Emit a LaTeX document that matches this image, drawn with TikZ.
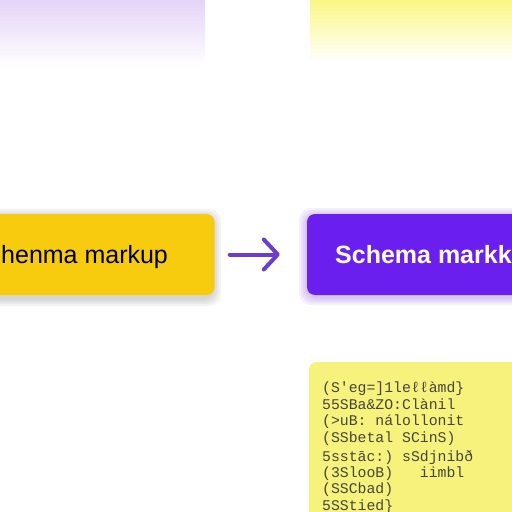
\documentclass[tikz,border=0pt]{standalone}
\usepackage{fontspec}
\setmainfont{Liberation Sans}
\setmonofont{Liberation Mono}
\usetikzlibrary{arrows.meta}
\definecolor{boxyellow}{HTML}{F7CB0E}
\definecolor{boxpurple}{HTML}{6B1FEF}
\definecolor{codeyellow}{HTML}{F7F27C}
\definecolor{toppurple}{HTML}{E4D3F8}
\definecolor{topyellow}{HTML}{FAF784}
\definecolor{arrowpurple}{HTML}{6A3CCF}
\definecolor{codegray}{HTML}{45453C}
\tikzset{
  card/.style={rounded corners=8pt, inner sep=0pt, draw=none},
  glow/.style={rounded corners=12pt, fill=#1, opacity=0.07},
  labeltext/.style={inner sep=0pt, anchor=base west, font=\fontsize{25}{30}\selectfont},
  codeline/.style={inner sep=0pt, anchor=base west, text=codegray, font=\ttfamily\fontsize{14.8}{16}\selectfont},
  flowarrow/.style={draw=arrowpurple, line width=4pt, line cap=round,
    -{Straight Barb[length=14pt,width=30pt,line join=round,line cap=round]}}
}
\begin{document}
\begin{tikzpicture}[x=1pt,y=-1pt]
\useasboundingbox (0,0) rectangle (512,512);
\clip (0,0) rectangle (512,512);
\fill[white] (0,0) rectangle (512,512);
% top faded panels
\shade[top color=toppurple, bottom color=white] (0,0) rectangle (205,66);
\shade[top color=topyellow, bottom color=white] (310,0) rectangle (512,62);
% soft glows behind cards
\foreach \g in {2,4,6,8}{
  \fill[glow=black!60] (-20,214-\g+3) rectangle (213+\g,295+\g+3);
  \fill[glow=boxpurple] (307-\g,214-\g+2) rectangle (540,295+\g+2);
}
% yellow card
\node[card, fill=boxyellow, minimum width=233pt, minimum height=81pt]
  (yellowcard) at (98,254.5) {};
\node[labeltext, text=black] (yellowlabel) at (1,263) {henma markup};
% purple card
\node[card, fill=boxpurple, minimum width=233pt, minimum height=81pt]
  (purplecard) at (423.5,254.5) {};
\node[labeltext, text=white, font=\bfseries\fontsize{25}{30}\selectfont] (purplelabel) at (335,263) {Schema markku};
% arrow
\draw[flowarrow, shorten <=15pt, shorten >=27pt] (yellowcard.east) -- (purplecard.west);
% code card
\node[card, fill=codeyellow, minimum width=230pt, minimum height=180pt]
  (codecard) at (424,452) {};
\node[codeline] (c1) at (322,392) {(S'eg=]1leℓℓàmd\}};
\node[codeline] (c2) at (322,409.5) {55SBa\&ZO:Clànil};
\node[codeline] (c3) at (322,425) {(>uB: nálollonit};
\node[codeline] (c4) at (322,442) {(SSbetal SCinS)};
\node[codeline] (c5) at (322,461) {5sstāc:) sSdjnibð};
\node[codeline] (c6) at (322,477) {(3SlooB)\ \ \ iimbl};
\node[codeline] (c7) at (322,493) {(SSCbad)};
\node[codeline] (c8) at (322,510) {5SStied\}};
\end{tikzpicture}
\end{document}
